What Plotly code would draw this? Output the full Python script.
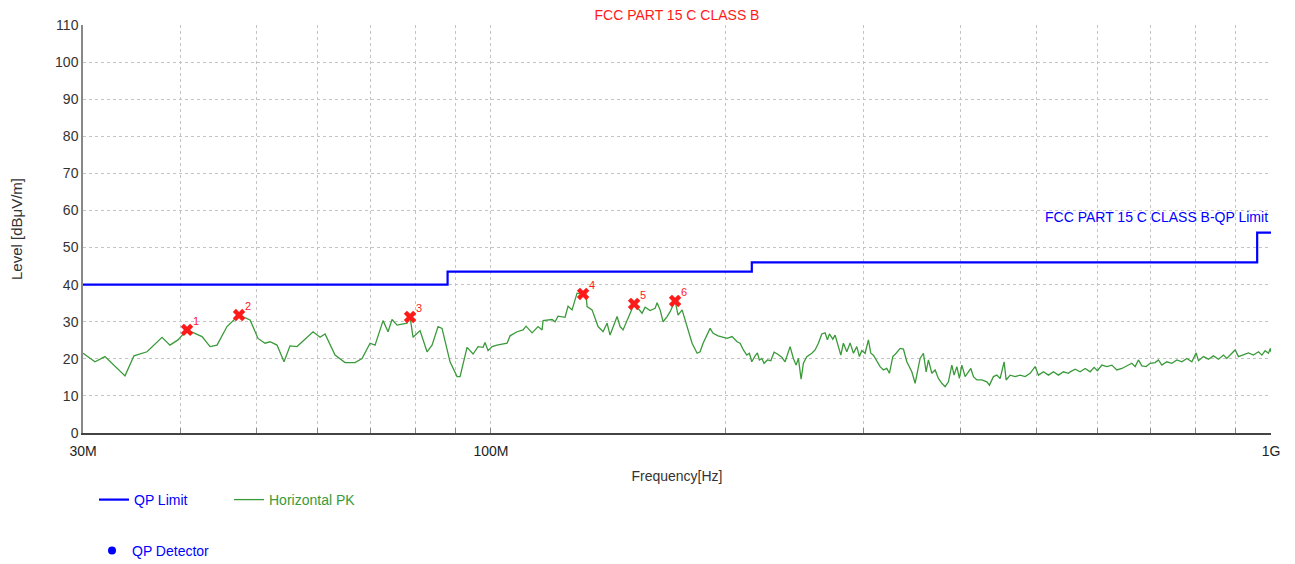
import math
import plotly.graph_objects as go

# ---------------- data ----------------
# Horizontal PK trace: frequency (MHz) and level (dBuV/m)
pk_freq = [
    30.00, 31.08, 32.01, 33.96, 34.87, 36.24, 37.88, 38.78, 39.71, 40.78,
    42.63, 43.65, 44.56, 45.89, 47.55, 49.12, 50.29, 51.34, 52.10, 53.19,
    54.30, 55.27, 56.43, 59.16, 60.39, 61.29, 63.13, 65.02, 66.96, 68.36,
    70.00, 71.04, 72.74, 73.82, 74.69, 75.80, 78.07, 78.77, 79.47, 81.13,
    82.82, 84.05, 85.56, 86.57, 88.64, 90.49, 91.30, 93.20, 94.87, 96.28,
    97.71, 98.29, 99.16, 100.34, 101.83, 104.89, 105.82, 108.03, 109.96, 110.94,
    112.92, 114.94, 116.30, 116.65, 119.79, 120.85, 121.93, 124.47, 125.58, 127.07,
    128.96, 131.27, 132.43, 132.83, 134.80, 137.21, 139.25, 140.90, 142.16, 145.13,
    146.42, 147.72, 149.92, 152.60, 154.41, 156.24, 157.63, 159.98, 162.35, 163.32,
    164.77, 166.24, 168.21, 169.71, 172.23, 173.76, 175.83, 177.39, 178.97, 181.09,
    183.79, 185.42, 187.07, 190.98, 192.68, 195.54, 200.81, 203.79, 206.82, 208.66,
    210.70, 212.83, 214.47, 215.99, 218.11, 219.59, 220.89, 222.46, 223.98, 226.17,
    228.45, 230.69, 232.95, 235.99, 238.30, 241.85, 244.21, 246.17, 247.85, 249.83,
    251.53, 254.07, 257.85, 260.37, 262.92, 265.57, 268.17, 270.00, 271.60, 274.34,
    276.21, 278.91, 280.89, 283.05, 285.91, 288.71, 291.54, 294.48, 296.75, 298.86,
    301.78, 304.74, 306.90, 309.27, 312.94, 315.45, 318.54, 321.75, 324.23, 327.50,
    330.71, 334.63, 337.91, 341.32, 346.39, 349.78, 352.17, 354.98, 358.46, 361.33,
    363.79, 367.46, 371.06, 374.69, 378.47, 382.17, 385.91, 389.81, 392.46, 395.60,
    398.65, 401.49, 405.42, 409.39, 412.30, 415.48, 419.67, 425.91, 432.24, 435.57,
    440.75, 445.19, 449.55, 454.89, 457.58, 463.02, 469.90, 476.89, 483.98, 491.18,
    498.48, 503.36, 510.85, 518.44, 526.15, 533.97, 541.91, 549.97, 552.74, 560.96,
    569.30, 577.76, 586.35, 593.32, 599.12, 606.96, 615.98, 625.15, 634.44, 643.88,
    653.45, 663.17, 669.66, 676.21, 683.03, 691.76, 699.98, 710.39, 717.34, 724.58,
    735.35, 746.28, 757.38, 768.64, 780.07, 791.67, 801.78, 807.25, 819.25, 831.43,
    843.79, 856.34, 869.07, 877.84, 890.90, 899.62, 908.42, 921.93, 935.64, 949.55,
    963.67, 973.39, 982.92, 992.54, 997.90, 1000.0,
]
pk_level = [
    21.5, 19.2, 20.6, 15.4, 20.8, 21.9, 25.8, 23.7, 25.1, 27.8,
    26.0, 23.3, 23.7, 28.7, 31.8, 30.5, 25.5, 24.2, 24.6, 23.7,
    19.2, 23.5, 23.3, 27.3, 25.8, 26.7, 21.0, 19.0, 19.0, 20.1,
    24.2, 23.7, 30.3, 27.3, 30.6, 29.1, 29.6, 31.3, 25.8, 27.6,
    21.9, 23.7, 28.7, 28.2, 19.2, 15.2, 15.2, 23.1, 21.3, 23.3,
    23.1, 24.4, 22.2, 23.3, 23.7, 24.2, 26.2, 27.3, 27.8, 28.8,
    27.0, 28.7, 27.8, 30.3, 30.6, 30.0, 31.5, 31.2, 34.2, 33.2,
    37.7, 37.5, 37.2, 34.1, 33.2, 28.7, 27.3, 29.6, 26.4, 31.4,
    28.7, 27.8, 30.9, 34.8, 33.6, 32.3, 33.9, 33.0, 33.6, 35.1,
    33.2, 30.0, 31.4, 32.7, 35.6, 31.8, 33.2, 30.5, 27.8, 24.2,
    21.5, 21.9, 24.2, 28.2, 26.9, 26.2, 25.5, 26.0, 24.6, 24.2,
    22.4, 21.0, 21.5, 19.2, 20.8, 21.6, 19.7, 20.1, 18.8, 19.7,
    19.5, 21.8, 21.3, 20.4, 19.2, 23.3, 20.1, 18.3, 20.1, 14.5,
    18.8, 20.6, 21.5, 22.4, 24.2, 26.7, 27.0, 25.1, 26.7, 25.3,
    26.4, 23.3, 21.0, 24.2, 21.9, 24.3, 21.5, 23.3, 20.6, 22.2,
    21.5, 25.1, 21.5, 21.0, 19.2, 17.9, 17.0, 17.4, 16.1, 20.6,
    21.5, 22.8, 22.6, 19.2, 16.5, 13.4, 16.5, 20.1, 21.5, 16.5,
    19.7, 16.1, 17.0, 14.7, 13.4, 12.5, 13.8, 18.3, 15.6, 17.9,
    14.7, 18.3, 15.2, 16.5, 17.4, 15.2, 14.3, 14.3, 13.8, 12.9,
    15.2, 15.6, 14.7, 19.2, 14.3, 15.6, 15.2, 15.6, 15.2, 16.1,
    17.9, 15.6, 16.5, 15.6, 16.5, 15.6, 16.5, 16.1, 16.5, 17.2,
    16.5, 17.4, 16.5, 17.7, 16.8, 18.3, 17.9, 18.3, 17.0, 17.4,
    18.1, 18.8, 17.9, 19.7, 18.1, 17.9, 18.8, 19.0, 19.7, 18.3,
    19.2, 18.8, 19.7, 19.2, 20.1, 19.2, 21.6, 19.5, 20.6, 19.9,
    20.8, 19.9, 21.0, 20.1, 21.5, 22.4, 20.6, 21.0, 21.6, 21.0,
    21.9, 21.0, 22.2, 21.5, 22.8, 21.9,
]

# QP limit (FCC Part 15 C Class B), step edges in MHz
limit_freq = [30, 88, 216, 960, 1000]
limit_level = [40, 43.5, 46, 54, 54]

# Final measurement markers
mk_freq = [40.78, 47.55, 78.77, 131.27, 152.60, 172.23]
mk_level = [27.8, 31.8, 31.3, 37.5, 34.8, 35.6]
mk_label = ["1", "2", "3", "4", "5", "6"]

x_tick_vals = [30, 40, 50, 60, 70, 80, 90, 100, 200, 300, 400, 500, 600, 700, 800, 900, 1000]
x_tick_text = ["30M", "", "", "", "", "", "", "100M", "", "", "", "", "", "", "", "", "1G"]
y_tick_vals = [0, 10, 20, 30, 40, 50, 60, 70, 80, 90, 100, 110]

FONT = "Liberation Sans, Arial, sans-serif"
BLUE = "#0000ff"
GREEN = "#3a9a3a"
RED = "#ff1a1a"

# page body has an 8px margin, so the figure is 8px smaller than the window
W, H = 1287, 556

fig = go.Figure()

fig.add_trace(go.Scatter(
    x=limit_freq, y=limit_level, mode="lines", line_shape="hv",
    line=dict(color=BLUE, width=2.2),
    name="<span style='color:#0000ff'>QP Limit</span>", legend="legend",
))
fig.add_trace(go.Scatter(
    x=pk_freq, y=pk_level, mode="lines",
    line=dict(color=GREEN, width=1.3),
    name="<span style='color:#3a9a3a'>Horizontal PK</span>", legend="legend",
))
fig.add_trace(go.Scatter(
    x=[None], y=[None], mode="markers",
    marker=dict(color=BLUE, size=8, symbol="circle"),
    name="<span style='color:#0000ff'>QP Detector</span>", legend="legend2",
))
fig.add_trace(go.Scatter(
    x=mk_freq, y=mk_level, mode="markers", showlegend=False,
    marker=dict(color=RED, size=11, symbol="x", line=dict(width=0)),
))

for f, lv, lab in zip(mk_freq, mk_level, mk_label):
    fig.add_annotation(
        x=math.log10(f), y=lv, text=lab, showarrow=False,
        xanchor="left", yanchor="bottom", xshift=4, yshift=1,
        font=dict(family=FONT, size=11, color=RED),
    )

fig.add_annotation(
    x=math.log10(limit_freq[-1]), y=limit_level[-1],
    text="FCC PART 15 C CLASS B-QP Limit", showarrow=False,
    xanchor="right", yanchor="bottom", xshift=-1, yshift=6,
    font=dict(family=FONT, size=14, color=BLUE),
)

fig.update_layout(
    width=W, height=H,
    margin=dict(l=75, r=24, t=17, b=131, autoexpand=False),
    paper_bgcolor="white", plot_bgcolor="white",
    font=dict(family=FONT, size=13, color="#333333"),
    title=dict(
        text="FCC PART 15 C CLASS B", x=0.5, xref="paper", y=1 - 7 / H,
        yref="container", xanchor="center", yanchor="middle",
        font=dict(family=FONT, size=14, color=RED),
    ),
    legend=dict(
        orientation="h", xref="container", yref="container",
        x=86 / W, y=1 - 492 / H, xanchor="left", yanchor="middle",
        font=dict(family=FONT, size=14), bgcolor="rgba(0,0,0,0)",
        entrywidth=90, entrywidthmode="pixels",
    ),
    legend2=dict(
        orientation="h", xref="container", yref="container",
        x=84 / W, y=1 - 543 / H, xanchor="left", yanchor="middle",
        font=dict(family=FONT, size=14), bgcolor="rgba(0,0,0,0)",
    ),
)

fig.update_xaxes(
    type="log", range=[math.log10(30), math.log10(1000)],
    tickvals=x_tick_vals, ticktext=x_tick_text,
    tickfont=dict(family=FONT, size=14, color="#222222"),
    ticklabelstandoff=4,
    showgrid=True, gridcolor="#c4c4c4", griddash="dot", gridwidth=1,
    showline=True, linecolor="#444444", linewidth=2,
    ticks="inside", ticklen=5, tickcolor="#888888",
    zeroline=False, mirror=False, automargin=False,
    title=dict(text="Frequency[Hz]", font=dict(family=FONT, size=14, color="#333333"), standoff=28),
)
fig.update_yaxes(
    range=[0, 110], tickvals=y_tick_vals,
    tickfont=dict(family=FONT, size=14, color="#333333"),
    showgrid=True, gridcolor="#c4c4c4", griddash="dot", gridwidth=1,
    showline=True, linecolor="#888888", linewidth=1.5,
    zeroline=False, ticks="", automargin=False,
    title=dict(text="Level [dBμV/m]", font=dict(family=FONT, size=15, color="#333333"), standoff=30),
)

fig.write_html("out.html")
